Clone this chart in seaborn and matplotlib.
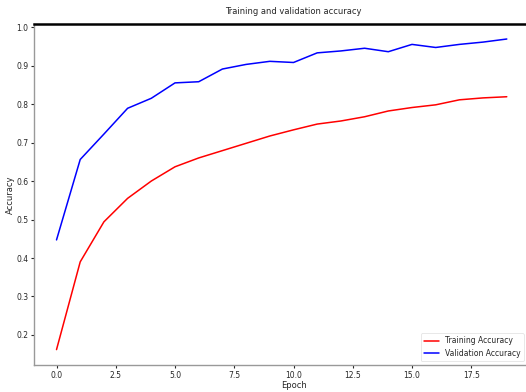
import numpy as np
import pandas as pd
import matplotlib
matplotlib.use('Agg')
import matplotlib.pyplot as plt
import seaborn as sns

# values
epochs = list(range(20))
train_acc = [0.162, 0.390, 0.494, 0.555, 0.600, 0.637, 0.660, 0.679, 0.698, 0.717,
             0.733, 0.748, 0.756, 0.767, 0.782, 0.791, 0.798, 0.811, 0.816, 0.819]
val_acc = [0.447, 0.656, 0.722, 0.789, 0.815, 0.855, 0.858, 0.891, 0.903, 0.911,
           0.908, 0.933, 0.938, 0.945, 0.936, 0.955, 0.947, 0.955, 0.961, 0.969]

df = pd.DataFrame({'Epoch': epochs + epochs,
                   'Accuracy': train_acc + val_acc,
                   'Series': ['Training Accuracy'] * 20 + ['Validation Accuracy'] * 20})

sns.set_style('ticks')
plt.rcParams['font.family'] = ['DejaVu Sans']

fig = plt.figure(figsize=(5.26, 3.92), dpi=100)
# axes run past the right edge, the reference image is cropped there
ax = fig.add_axes([34/526, 27/392, 519/526, 341/392])

palette = {'Training Accuracy': 'r', 'Validation Accuracy': 'b'}
sns.lineplot(ax=ax, data=df, x='Epoch', y='Accuracy', hue='Series', palette=palette, linewidth=1.1)

ax.set_title('Training and validation accuracy', fontsize=6, pad=7)
ax.set_xlabel('Epoch', fontsize=6, labelpad=1)
ax.set_ylabel('Accuracy', fontsize=6, labelpad=1)
ax.set_xticks([0, 2.5, 5, 7.5, 10, 12.5, 15, 17.5])
ax.set_xticklabels(['0.0', '2.5', '5.0', '7.5', '10.0', '12.5', '15.0', '17.5'])
ax.set_yticks([0.2, 0.3, 0.4, 0.5, 0.6, 0.7, 0.8, 0.9, 1.0])
ax.tick_params(labelsize=5.5, length=2, width=0.8, pad=2)
ax.set_xlim(-0.95, 20.95)
ax.set_ylim(0.122, 1.008)

for s in ['left', 'bottom']:
    ax.spines[s].set_color('#999999')
    ax.spines[s].set_linewidth(1.0)
ax.spines['top'].set_color('black')
ax.spines['top'].set_linewidth(1.8)
ax.spines['right'].set_visible(False)

# keep the legend inside the visible part of the figure
leg = ax.legend(loc='lower right', fontsize=5.5, frameon=True, borderaxespad=0.5,
                handlelength=2, bbox_to_anchor=(0.951, 0.0))
leg.get_frame().set_linewidth(0.6)
leg.get_frame().set_edgecolor('#dddddd')

fig.savefig('out.png', dpi=100)
